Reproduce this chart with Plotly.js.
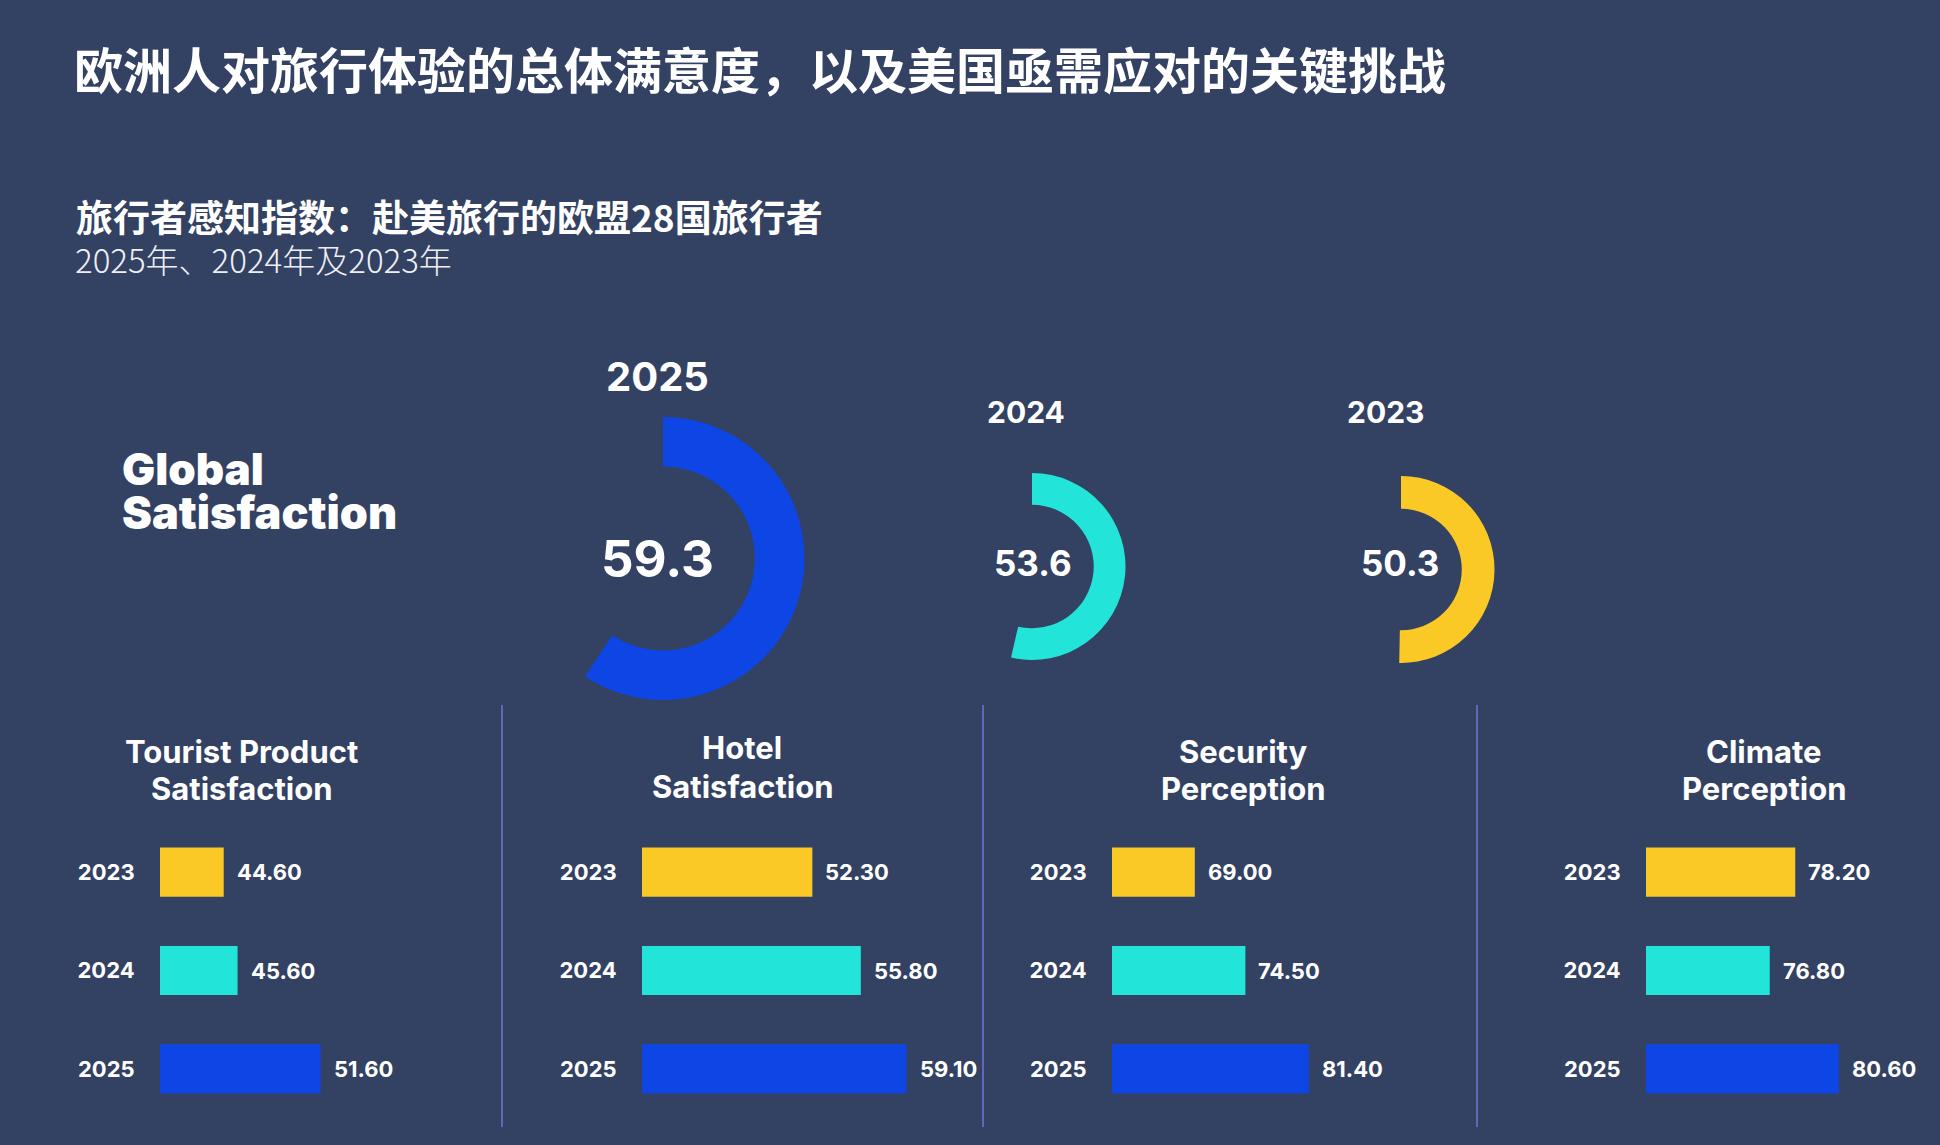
<!DOCTYPE html>
<html>
<head>
<meta charset="utf-8">
<script src="https://cdn.plot.ly/plotly-3.0.1.min.js"></script>
<style>
html,body{margin:0;padding:0;background:#334163;}
#chart{width:1940px;height:1145px;}
</style>
</head>
<body>
<div id="chart"></div>
<script>
// ---------------- DATA ----------------
const mainTitle = '欧洲人对旅行体验的总体满意度，以及美国亟需应对的关键挑战';
const subTitle = '旅行者感知指数：赴美旅行的欧盟28国旅行者';
const subTitle2 = '2025年、2024年及2023年';
const globalLabel = ['Global', 'Satisfaction'];

const globalYears = ['2025', '2024', '2023'];
const globalValues = [59.3, 53.6, 50.3];

const years = ['2023', '2024', '2025'];
const panelTitles = [['Tourist Product', 'Satisfaction'], ['Hotel', 'Satisfaction'], ['Security', 'Perception'], ['Climate', 'Perception']];
const touristProduct = [44.60, 45.60, 51.60];
const hotel = [52.30, 55.80, 59.10];
const security = [69.00, 74.50, 81.40];
const climate = [78.20, 76.80, 80.60];
const panelSeries = [touristProduct, hotel, security, climate];
const axisStart = [40, 40, 60, 70];

// ---------------- STYLE / LAYOUT ----------------
const W = 1940, H = 1145;
const BG = '#334163';
const yearColors = {'2023': '#fbc926', '2024': '#22e4d8', '2025': '#0e46e6'};
const LATIN = 'Inter, "Open Sans", sans-serif';
const CJK = '"Noto Sans CJK SC", sans-serif';
const px = v => v / W;
const py = v => 1 - v / H;

const donutGeom = [
  {cx: 663, cy: 558.5, r: 141.5, hole: 0.65, yearY: 376, yearSize: 40, valSize: 51, valX: 657, valY: 558, yearX: 657},
  {cx: 1032, cy: 566.5, r: 93.5, hole: 0.66, yearY: 412, yearSize: 30, valSize: 35, valX: 1033, valY: 563, yearX: 1026},
  {cx: 1401, cy: 569.5, r: 93.5, hole: 0.65, yearY: 412, yearSize: 30, valSize: 35, valX: 1400, valY: 563, yearX: 1385}
];

const panelLeft = [160, 642, 1112, 1646];
const pxPerUnit = [13.85, 13.85, 9.2, 18.2];
const panelWidth = 280;
const panelTitleX = [241, 742, 1243, 1764];
const panelTitleY = [[751, 788], [748, 786], [751, 788], [751, 788]];
const dividersX = [502, 983, 1477];
const barTop = 823, barBottom = 1118;

const traces = [];
const annotations = [];
const shapes = [];
const layout = {
  width: W, height: H,
  margin: {l: 0, r: 0, t: 0, b: 0},
  paper_bgcolor: BG, plot_bgcolor: BG,
  showlegend: false,
  hovermode: false,
  title: {
    text: mainTitle,
    x: px(74), xanchor: 'left', xref: 'paper',
    y: py(72), yanchor: 'middle', yref: 'paper',
    font: {family: CJK, size: 49, color: '#ffffff', weight: 700}
  }
};

// Donuts
globalValues.forEach((v, i) => {
  const g = donutGeom[i];
  traces.push({
    type: 'pie',
    values: [v, 100 - v],
    marker: {colors: [yearColors[globalYears[i]], 'rgba(0,0,0,0)'], line: {width: 0}},
    hole: g.hole,
    sort: false,
    direction: 'clockwise',
    rotation: 0,
    textinfo: 'none',
    hoverinfo: 'skip',
    showlegend: false,
    domain: {x: [px(g.cx - g.r), px(g.cx + g.r)], y: [py(g.cy + g.r), py(g.cy - g.r)]}
  });
  annotations.push({
    xref: 'paper', yref: 'paper', x: px(g.yearX), y: py(g.yearY),
    xanchor: 'center', yanchor: 'middle', showarrow: false,
    text: globalYears[i],
    font: {family: LATIN, size: g.yearSize, color: '#ffffff', weight: 700}
  });
  annotations.push({
    xref: 'paper', yref: 'paper', x: px(g.valX), y: py(g.valY),
    xanchor: 'center', yanchor: 'middle', showarrow: false,
    text: v.toFixed(1),
    font: {family: LATIN, size: g.valSize, color: '#ffffff', weight: 700}
  });
});

// Bar panels
panelSeries.forEach((vals, i) => {
  const n = i + 1;
  const sfx = n === 1 ? '' : String(n);
  const xa = 'xaxis' + sfx, ya = 'yaxis' + sfx;
  const xr = 'x' + sfx, yr = 'y' + sfx;
  traces.push({
    type: 'bar', orientation: 'h',
    x: vals, y: years,
    xaxis: xr, yaxis: yr,
    width: 0.5,
    marker: {color: years.map(y => yearColors[y]), line: {width: 0}},
    hoverinfo: 'skip', showlegend: false
  });
  layout[xa] = {
    domain: [px(panelLeft[i]), px(panelLeft[i] + panelWidth)],
    range: [axisStart[i], axisStart[i] + panelWidth / pxPerUnit[i]],
    anchor: yr,
    showgrid: false, zeroline: false, showline: false, showticklabels: false, ticks: '',
    fixedrange: true
  };
  layout[ya] = {
    domain: [py(barBottom), py(barTop)],
    type: 'category',
    categoryorder: 'array', categoryarray: years,
    range: [2.5, -0.5],
    anchor: xr,
    showgrid: false, zeroline: false, showline: false,
    ticks: 'outside', ticklen: 20, tickcolor: 'rgba(0,0,0,0)',
    tickfont: {family: LATIN, size: 22, color: '#ffffff', weight: 700},
    fixedrange: true
  };
  vals.forEach((v, k) => {
    annotations.push({
      xref: xr, yref: yr, x: v, y: k,
      xanchor: 'left', yanchor: 'middle', xshift: 11, showarrow: false,
      text: v.toFixed(2),
      font: {family: LATIN, size: 22, color: '#ffffff', weight: 700}
    });
  });
  panelTitles[i].forEach((line, j) => {
    annotations.push({
      xref: 'paper', yref: 'paper', x: px(panelTitleX[i]), y: py(panelTitleY[i][j]),
      xanchor: 'center', yanchor: 'middle', showarrow: false,
      text: line,
      font: {family: LATIN, size: 31, color: '#ffffff', weight: 700}
    });
  });
});

// Dividers
dividersX.forEach(x => {
  shapes.push({type: 'line', xref: 'paper', yref: 'paper',
    x0: px(x), x1: px(x), y0: py(1127), y1: py(705),
    line: {color: '#6c77d6', width: 1.5}});
});

// Subtitles and Global Satisfaction label
annotations.push({
  xref: 'paper', yref: 'paper', x: px(74), y: py(216),
  xanchor: 'left', yanchor: 'middle', showarrow: false,
  text: subTitle,
  font: {family: CJK, size: 37, color: '#ffffff', weight: 700}
});
annotations.push({
  xref: 'paper', yref: 'paper', x: px(73), y: py(259),
  xanchor: 'left', yanchor: 'middle', showarrow: false,
  text: subTitle2,
  font: {family: CJK, size: 33, color: '#eef0f5', weight: 300}
});
annotations.push({
  xref: 'paper', yref: 'paper', x: px(120), y: py(469),
  xanchor: 'left', yanchor: 'middle', showarrow: false,
  text: globalLabel[0],
  font: {family: LATIN, size: 44, color: '#ffffff', weight: 900}
});
annotations.push({
  xref: 'paper', yref: 'paper', x: px(120), y: py(512),
  xanchor: 'left', yanchor: 'middle', showarrow: false,
  text: globalLabel[1],
  font: {family: LATIN, size: 45, color: '#ffffff', weight: 900}
});

layout.annotations = annotations;
layout.shapes = shapes;

Plotly.newPlot('chart', traces, layout, {displayModeBar: false, staticPlot: true});
</script>
</body>
</html>
